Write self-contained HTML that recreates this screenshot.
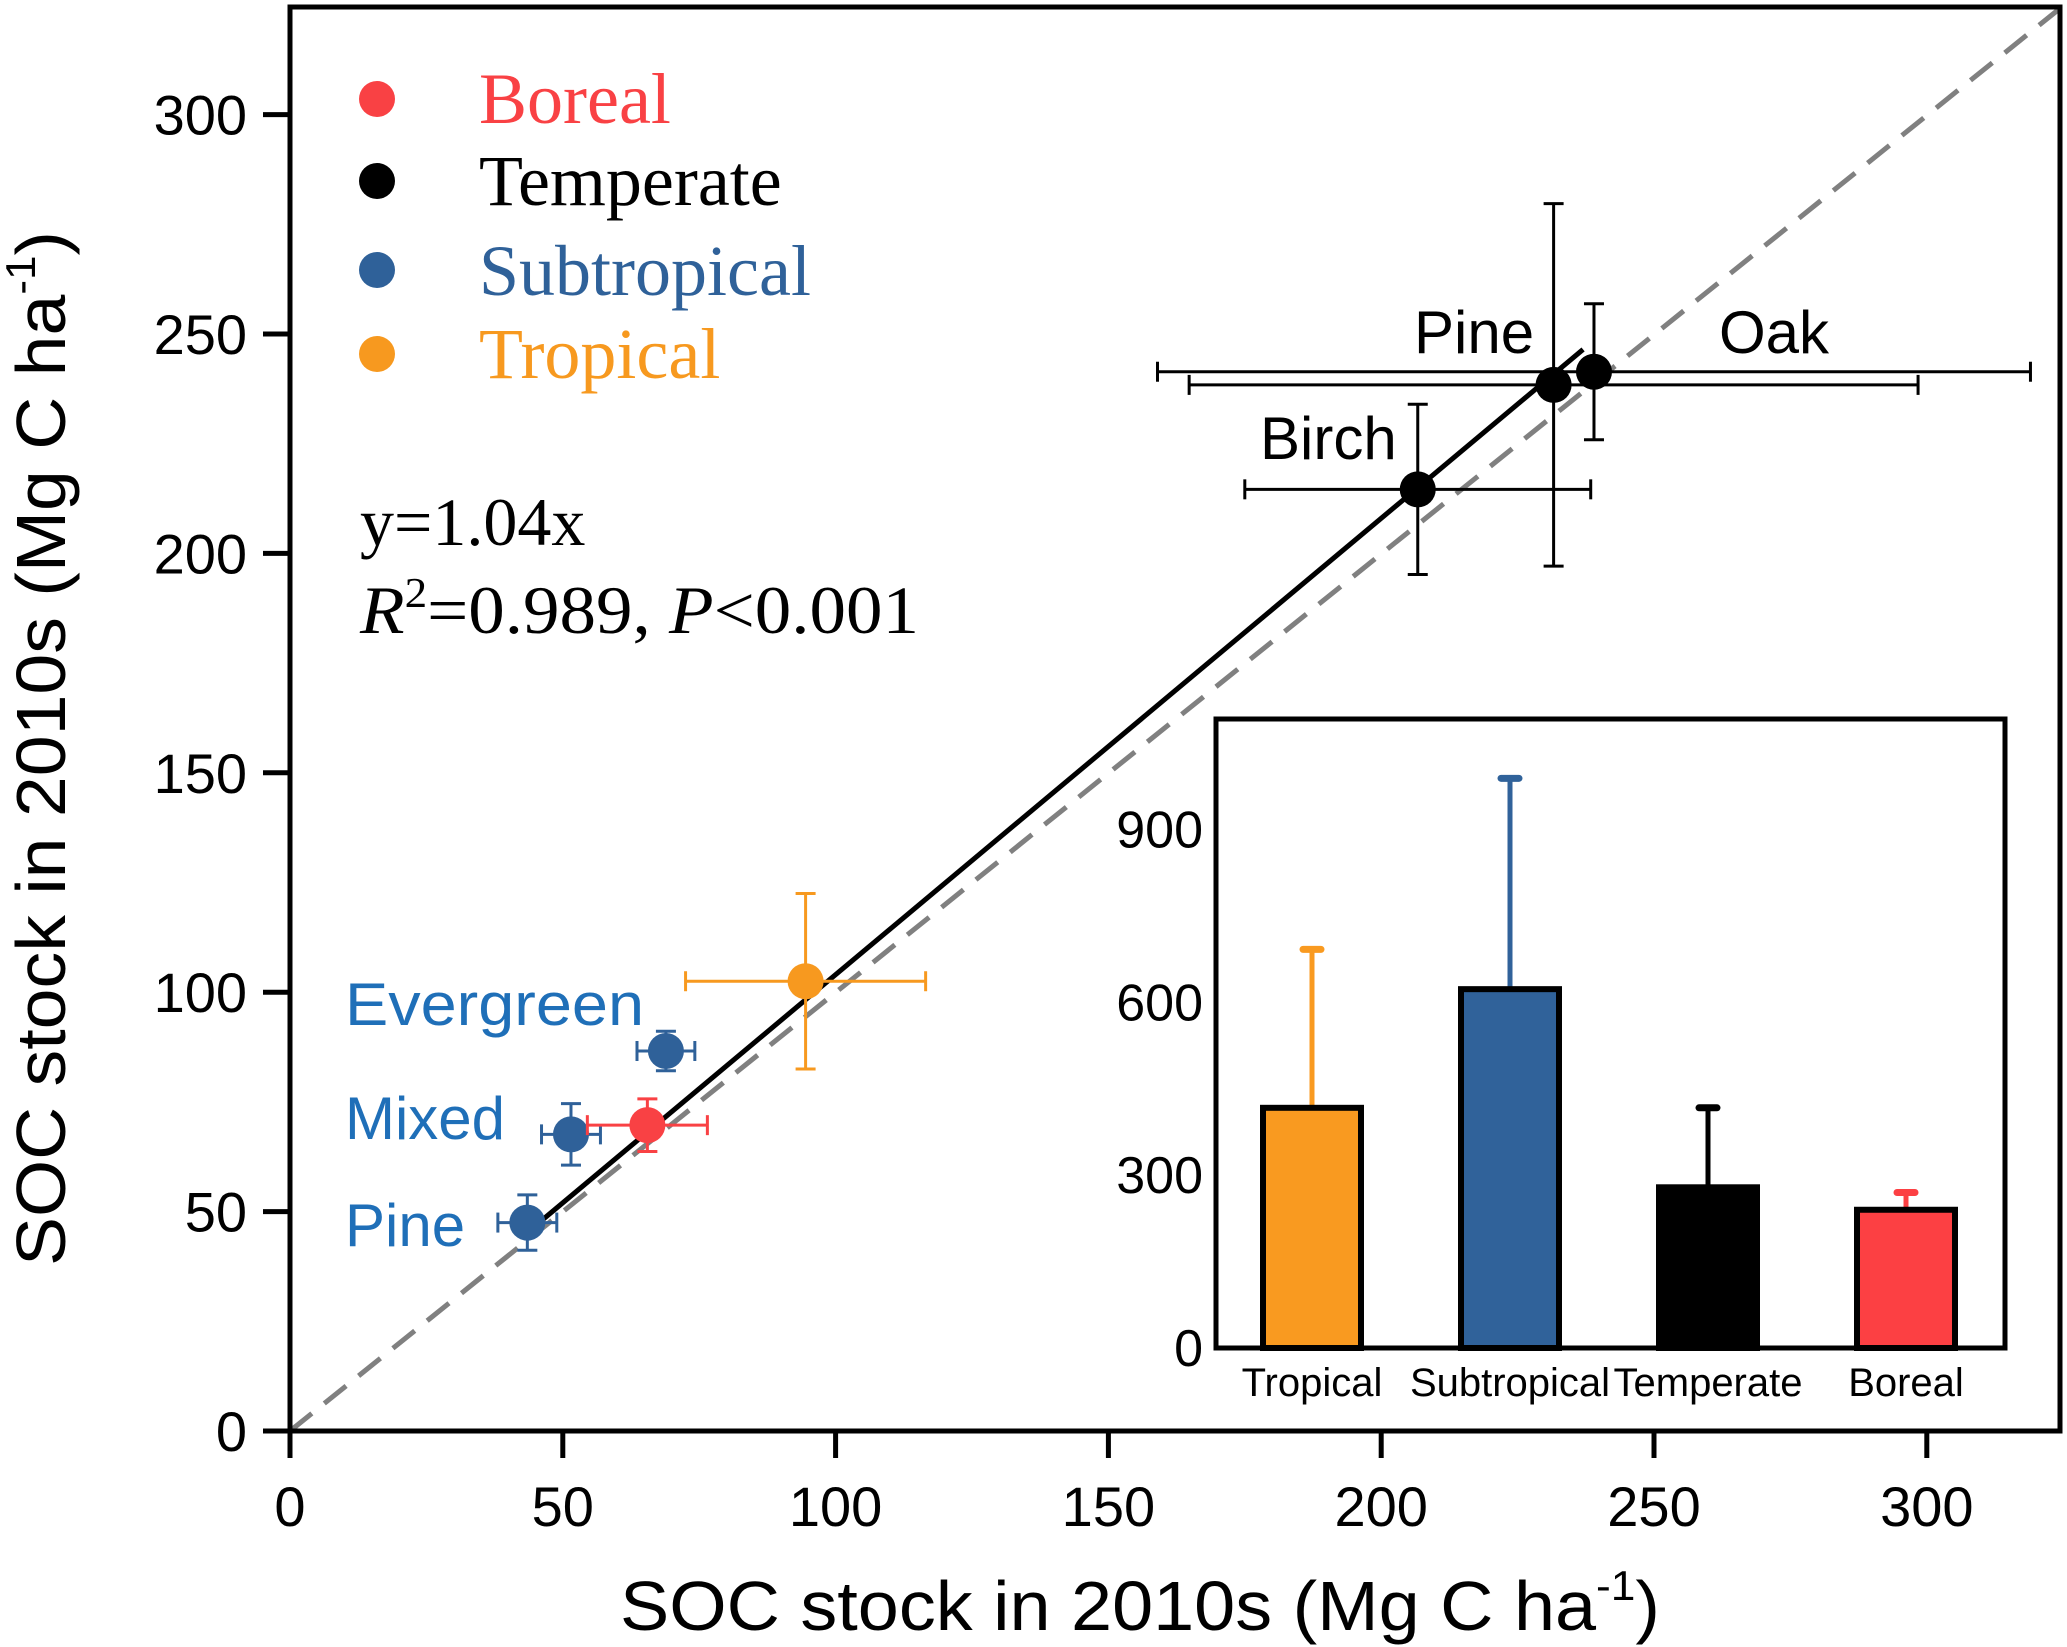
<!DOCTYPE html>
<html><head><meta charset="utf-8"><style>
html,body{margin:0;padding:0;background:#fff}
svg{display:block}
text{font-family:"Liberation Sans",Arial,sans-serif}
.tm{font-family:"Liberation Serif","Times New Roman",serif}
</style></head><body>
<svg id="chart" width="2067" height="1647" viewBox="0 0 2067 1647" xmlns="http://www.w3.org/2000/svg">
<g id="main"></g>
<g id="inset"></g>
</svg>
<script>
// ---- main scatter data ----
const ptNames = ["evergreen","mixed","pine-subtropical","boreal","tropical","birch","pine-temperate","oak"];
const ptX = [68.9, 51.5, 43.5, 65.5, 94.5, 206.7, 231.6, 239];
const ptY = [86.6, 67.6, 47.5, 69.7, 102.5, 214.6, 238.4, 241.4];
const ptXerr = [5.3, 5.4, 5.4, 11, 22, 31.7, 66.8, 80];
const ptYerr = [4.5, 7, 6.3, 6, 20, 19.4, 41.3, 15.5];
const ptColor = ["#2f6199","#2f6199","#2f6199","#f94144","#f7991f","#000","#000","#000"];
const xTicks = [0,50,100,150,200,250,300];
const yTicks = [0,50,100,150,200,250,300];
const fitSlope = 1.04;
const fitRange = [46, 237];
// ---- inset bar data ----
const barCats = ["Tropical","Subtropical","Temperate","Boreal"];
const barVals = [417, 623, 279, 240];
const barErrTop = [692, 989, 417, 270];
const barColors = ["#f99a20","#30629a","#000000","#fc4043"];
const insetTicks = [0,300,600,900];

const NS="http://www.w3.org/2000/svg";
function mk(parent,tag,attrs,txt){const e=document.createElementNS(NS,tag);for(const k in attrs)e.setAttribute(k,attrs[k]);if(txt!==undefined)e.textContent=txt;parent.appendChild(e);return e;}
const X=v=>290+v*5.456, Y=v=>1431-v*4.388;
const main=document.getElementById('main');
let e;
// dashed 1:1
e=mk(main,'line',{x1:X(0),y1:Y(0),x2:2058,y2:10,stroke:'#808080','stroke-width':5,'stroke-dasharray':'28,16'});


// fit line
e=mk(main,'line',{x1:X(fitRange[0]),y1:Y(fitRange[0]*fitSlope),x2:X(fitRange[1]),y2:Y(fitRange[1]*fitSlope),stroke:'#000','stroke-width':5});


// error bars & points
ptX.forEach((xv,i)=>{
  const g=mk(main,'g',{});
  
  
  const c=ptColor[i], sw=3, cap=10;
  const x1=X(xv-ptXerr[i]),x2=X(xv+ptXerr[i]),y1=Y(ptY[i]-ptYerr[i]),y2=Y(ptY[i]+ptYerr[i]);
  const cx=X(xv),cy=Y(ptY[i]);
  mk(g,'line',{x1:x1,y1:cy,x2:x2,y2:cy,stroke:c,'stroke-width':sw});
  mk(g,'line',{x1:x1,y1:cy-cap,x2:x1,y2:cy+cap,stroke:c,'stroke-width':sw});
  mk(g,'line',{x1:x2,y1:cy-cap,x2:x2,y2:cy+cap,stroke:c,'stroke-width':sw});
  mk(g,'line',{x1:cx,y1:y1,x2:cx,y2:y2,stroke:c,'stroke-width':sw});
  mk(g,'line',{x1:cx-cap,y1:y1,x2:cx+cap,y2:y1,stroke:c,'stroke-width':sw});
  mk(g,'line',{x1:cx-cap,y1:y2,x2:cx+cap,y2:y2,stroke:c,'stroke-width':sw});
  mk(g,'circle',{cx:cx,cy:cy,r:18,fill:c});
});
// frame
e=mk(main,'rect',{x:290,y:7,width:1770,height:1424,fill:'none',stroke:'#000','stroke-width':5});


// ticks
xTicks.forEach(t=>{
  mk(main,'line',{x1:X(t),y1:1431,x2:X(t),y2:1458,stroke:'#000','stroke-width':5});
  e=mk(main,'text',{x:X(t),y:1526,'font-size':56,'text-anchor':'middle'},String(t));
  
  
});
yTicks.forEach(t=>{
  mk(main,'line',{x1:263,y1:Y(t),x2:290,y2:Y(t),stroke:'#000','stroke-width':5});
  e=mk(main,'text',{x:247,y:Y(t)+20,'font-size':56,'text-anchor':'end'},String(t));
  
  
});
// ---- inset ----
const ins=document.getElementById('inset');
const IL=1216,IT=719,IR=2005,IB=1348;
const IY=v=>IB-v*0.576;
const IX=i=>1312+i*198;
e=mk(ins,'rect',{x:IL,y:IT,width:IR-IL,height:IB-IT,fill:'#fff',stroke:'#000','stroke-width':5});


barVals.forEach((v,i)=>{
  const cx=IX(i),c=barColors[i];
  e=mk(ins,'line',{x1:cx,y1:IY(v),x2:cx,y2:IY(barErrTop[i]),stroke:c,'stroke-width':5});
  
  
  mk(ins,'line',{x1:cx-9,y1:IY(barErrTop[i]),x2:cx+9,y2:IY(barErrTop[i]),stroke:c,'stroke-width':7,'stroke-linecap':'round'});
  e=mk(ins,'rect',{x:cx-49,y:IY(v),width:98,height:IB-IY(v),fill:c,stroke:'#000','stroke-width':6});
  
  
  e=mk(ins,'text',{x:cx,y:1396,'font-size':40,'text-anchor':'middle'},barCats[i]);
  
  
});
insetTicks.forEach(t=>{
  e=mk(ins,'text',{x:1203,y:IY(t)+18,'font-size':52,'text-anchor':'end'},String(t));
  
  
});
</script>
<svg style="position:absolute;left:0;top:0" width="2067" height="1647" viewBox="0 0 2067 1647" xmlns="http://www.w3.org/2000/svg">
<text x="620" y="1630" font-size="70" textLength="1040" lengthAdjust="spacingAndGlyphs">SOC stock in 2010s (Mg C ha<tspan font-size="42" dy="-30">-1</tspan><tspan dy="30">)</tspan></text>
<text transform="translate(65,1266) rotate(-90)" x="0" y="0" font-size="70" textLength="1035" lengthAdjust="spacingAndGlyphs">SOC stock in 2010s (Mg C ha<tspan font-size="42" dy="-30">-1</tspan><tspan dy="30">)</tspan></text>
<g>
<circle cx="377" cy="99" r="18" fill="#f94144"/>
<text class="tm" x="479" y="123" font-size="72" fill="#f94144">Boreal</text>
<circle cx="377" cy="181" r="18" fill="#000"/>
<text class="tm" x="479" y="205" font-size="72" fill="#000">Temperate</text>
<circle cx="377" cy="270" r="18" fill="#2f6199"/>
<text class="tm" x="479" y="295" font-size="72" fill="#2f6199">Subtropical</text>
<circle cx="377" cy="354" r="18" fill="#f7991f"/>
<text class="tm" x="479" y="378" font-size="72" fill="#f7991f">Tropical</text>
</g>
<text class="tm" x="360" y="545" font-size="68">y=1.04x</text>
<text class="tm" x="360" y="633" font-size="68" textLength="559" lengthAdjust="spacingAndGlyphs"><tspan font-style="italic">R</tspan><tspan font-size="42" dy="-26">2</tspan><tspan dy="26">=0.989, </tspan><tspan font-style="italic">P</tspan>&lt;0.001</text>
<text x="345" y="1025" font-size="60" fill="#1f6fb8" textLength="299" lengthAdjust="spacingAndGlyphs">Evergreen</text>
<text x="345" y="1139" font-size="60" fill="#1f6fb8">Mixed</text>
<text x="345" y="1246" font-size="60" fill="#1f6fb8">Pine</text>
<text x="1414" y="353" font-size="60">Pine</text>
<text x="1719" y="353" font-size="60">Oak</text>
<text x="1260" y="459" font-size="60">Birch</text>
</svg>
</body></html>
